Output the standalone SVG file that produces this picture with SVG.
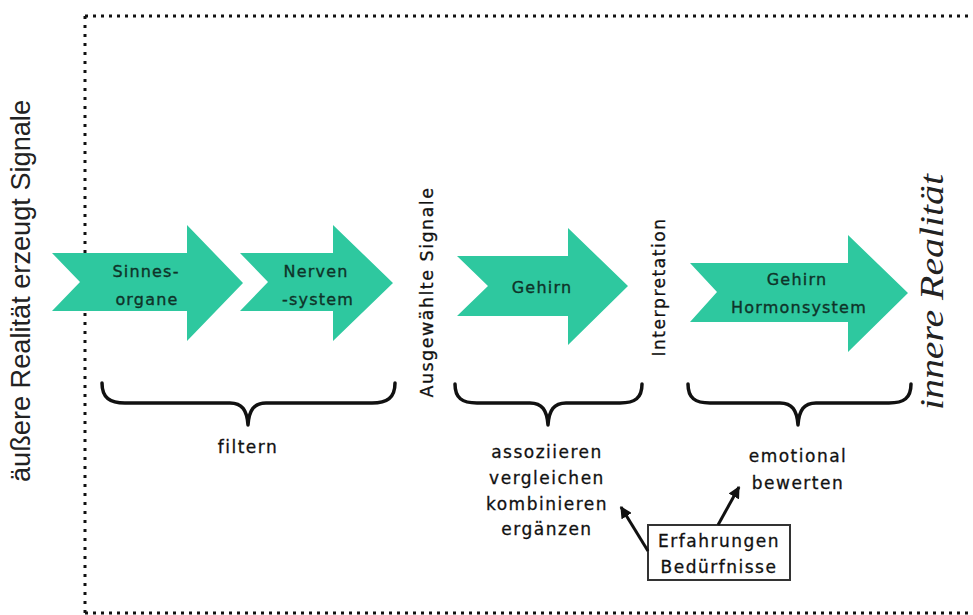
<svg xmlns="http://www.w3.org/2000/svg" width="973" height="615" viewBox="0 0 973 615">
<defs>
<style>
.arrow{fill:#2ec89f;stroke:none}
.al{font-family:"DejaVu Sans",sans-serif;font-size:16px;letter-spacing:1.2px;fill:#0f3329;stroke:#0f3329;stroke-width:0.35px;text-anchor:middle}
.lb{font-family:"DejaVu Sans",sans-serif;font-size:17px;letter-spacing:1.5px;fill:#111;stroke:#111;stroke-width:0.3px;text-anchor:middle}
.brace{fill:none;stroke:#111;stroke-width:3.5;stroke-linecap:round;stroke-linejoin:round}
.conn{fill:none;stroke:#111;stroke-width:3}
.dot{fill:none;stroke:#111;stroke-width:3}
</style>
<marker id="ah" viewBox="0 0 10 10" refX="9" refY="5" markerWidth="4" markerHeight="4" markerUnits="strokeWidth" orient="auto">
<path d="M0,0 L10,5 L0,10 Z" fill="#111"/>
</marker>
</defs>
<rect width="973" height="615" fill="#fff"/>
<g id="border">
<path class="dot" d="M85,16 H973" stroke-dasharray="3 5"/>
<path class="dot" d="M85,613 H973" stroke-dasharray="3 5"/>
<path class="dot" d="M85,16 V613" stroke-dasharray="3 6"/>
</g>
<g id="outer-label">
<text transform="translate(30,291) rotate(-90)" font-family="'Liberation Sans',Arial,sans-serif" font-size="27" fill="#222" text-anchor="middle" textLength="382" lengthAdjust="spacingAndGlyphs">äußere Realität erzeugt Signale</text>
</g>
<g id="sinnesorgane">
<path class="arrow" d="M52,253 L187,253 L187,225 L243,283 L187,341 L187,311 L52,311 L80,282 Z"/>
<text class="al" x="146" y="277">Sinnes-</text>
<text class="al" x="147" y="305">organe</text>
</g>
<g id="nervensystem">
<path class="arrow" d="M240,253 L333,253 L333,225 L393,283 L333,341 L333,311 L240,311 L268,282 Z"/>
<text class="al" x="316" y="277">Nerven</text>
<text class="al" x="318" y="305">-system</text>
</g>
<g id="ausgewaehlte-signale">
<text class="lb" transform="translate(433,292) rotate(-90)" font-size="16" textLength="211" lengthAdjust="spacingAndGlyphs">Ausgewählte Signale</text>
</g>
<g id="gehirn">
<path class="arrow" d="M457,256 L568,256 L568,228 L628,286 L568,345 L568,316 L457,316 L488,286 Z"/>
<text class="al" x="542" y="293">Gehirn</text>
</g>
<g id="interpretation">
<text class="lb" transform="translate(665,287) rotate(-90)" font-size="16" textLength="139" lengthAdjust="spacingAndGlyphs">Interpretation</text>
</g>
<g id="gehirn-hormonsystem">
<path class="arrow" d="M690,263 L848,263 L848,235 L908,293 L848,352 L848,322 L690,322 L717,292 Z"/>
<text class="al" x="797" y="285">Gehirn</text>
<text class="al" x="799" y="313">Hormonsystem</text>
</g>
<g id="innere-realitaet">
<text transform="translate(943,292) rotate(-90)" font-family="'Liberation Serif','DejaVu Serif',serif" font-style="italic" font-size="34" fill="#222" text-anchor="middle" textLength="236" lengthAdjust="spacingAndGlyphs">innere Realität</text>
</g>
<g id="brace-filtern">
<path class="brace" d="M102,383 C102,398 110,403 125,403 L230,403 C242,403 247,410 248,425 C249,410 254,403 266,403 L372,403 C387,403 395,398 395,383"/>
<text class="lb" x="248" y="453">filtern</text>
</g>
<g id="brace-assoziieren">
<path class="brace" d="M455,384 C455,398 462,403 477,403 L530,403 C542,403 547,410 548,425 C549,410 554,403 566,403 L620,403 C635,403 642,398 642,384"/>
<text class="lb" x="547" y="458">assoziieren</text>
<text class="lb" x="547" y="484">vergleichen</text>
<text class="lb" x="547" y="510">kombinieren</text>
<text class="lb" x="547" y="535">ergänzen</text>
</g>
<g id="brace-emotional">
<path class="brace" d="M688,384 C688,398 695,403 710,403 L780,403 C792,403 797,410 798,425 C799,410 804,403 816,403 L889,403 C904,403 911,398 911,384"/>
<text class="lb" x="798" y="462">emotional</text>
<text class="lb" x="798" y="489">bewerten</text>
</g>
<g id="erfahrungen">
<rect x="648" y="525" width="142" height="55" fill="#fff" stroke="#333" stroke-width="2"/>
<text class="lb" x="719" y="547">Erfahrungen</text>
<text class="lb" x="719" y="573">Bedürfnisse</text>
</g>
<g id="connectors">
<path class="conn" d="M648,551 L621,507" marker-end="url(#ah)"/>
<path class="conn" d="M718,525 L739,487" marker-end="url(#ah)"/>
</g>
</svg>
